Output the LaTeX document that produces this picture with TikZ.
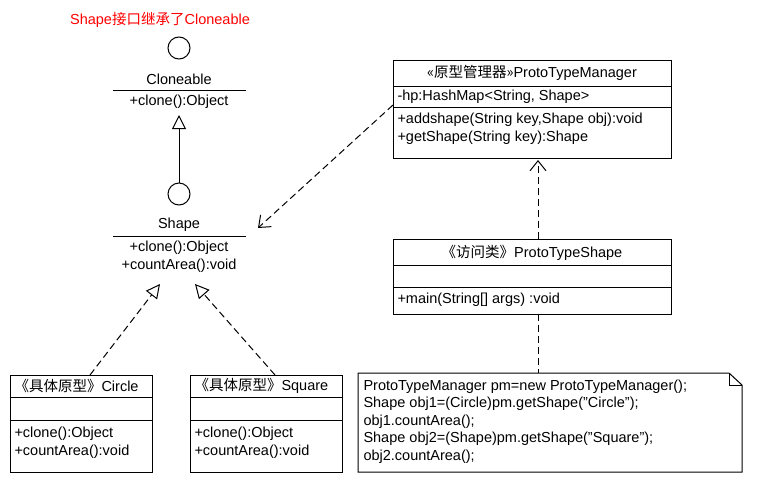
\documentclass[tikz,border=0pt]{standalone}
\usepackage{fontspec}
\setmainfont{Liberation Sans}
\newfontfamily\cjk{Noto Sans CJK SC}
\usetikzlibrary{arrows.meta}
\newcommand{\dq}{\symbol{34}}
\begin{document}
\begin{tikzpicture}[x=1pt,y=-1pt,font=\fontsize{14.5}{17.5}\selectfont,line width=1pt,
  lbl/.style={anchor=west,inner sep=0pt},
  ctr/.style={inner sep=0pt},
  box/.style={draw,line width=1pt},
  gen/.style={-{Triangle[open,length=14pt,width=14pt]}},
  dep/.style={dashed,dash pattern=on 7pt off 4pt,-{Straight Barb[length=10pt,width=16pt]}},
  circ/.style={draw,circle,minimum size=22pt,inner sep=0pt}]
\useasboundingbox (0,0) rectangle (768,498);
\node[ctr,text=red] (title) at (160,20) {Shape{\cjk 接口继承了}Cloneable};
% Cloneable
\node[circ] (c1) at (179,48) {};
\node[ctr] (cl) at (179,79) {Cloneable};
\draw (113,90) -- (246,90);
\node[ctr] (clm) at (179,102) {+clone():Object};
\coordinate (clb) at (179,115);
% Shape
\node[circ] (c2) at (179,194) {};
\node[ctr] (sh) at (179,225) {Shape};
\draw (113,236) -- (246,236);
\node[ctr] (shm1) at (179,248) {+clone():Object};
\node[ctr] (shm2) at (179,266) {+countArea():void};
\draw[gen] (c2.north) -- (clb);
% Circle class
\node[box,minimum width=142pt,minimum height=97pt,anchor=north west,inner sep=0pt] (ci) at (10,375) {};
\draw (10,397) -- (152,397) (10,420) -- (152,420);
\node[lbl] at (14,386) {{\cjk 《具体原型》}Circle};
\node[lbl] at (14,434) {+clone():Object};
\node[lbl] at (14,452) {+countArea():void};
% Square class
\node[box,minimum width=152pt,minimum height=97pt,anchor=north west,inner sep=0pt] (sq) at (190,375) {};
\draw (190,397) -- (342,397) (190,420) -- (342,420);
\node[lbl] at (194,386) {{\cjk 《具体原型》}Square};
\node[lbl] at (194,434) {+clone():Object};
\node[lbl] at (194,452) {+countArea():void};
\coordinate (ga) at (160,284);
\coordinate (gb) at (195,284);
\draw[gen,dashed,dash pattern=on 7pt off 4pt] (90,375) -- (ga);
\draw[gen,dashed,dash pattern=on 7pt off 4pt] (275,375) -- (gb);
% Manager
\node[box,minimum width=278pt,minimum height=98pt,anchor=north west,inner sep=0pt] (pm) at (393,60) {};
\draw (393,86) -- (671,86) (393,107) -- (671,107);
\node[ctr] at (532,73) {{\cjk «原型管理器»}ProtoTypeManager};
\node[lbl] at (397,97) {-hp:HashMap<String, Shape>};
\node[lbl] at (397,120) {+addshape(String key,Shape obj):void};
\node[lbl] at (397,138) {+getShape(String key):Shape};
% ProtoTypeShape
\node[box,minimum width=278pt,minimum height=75pt,anchor=north west,inner sep=0pt] (ps) at (393,239) {};
\draw (393,265) -- (671,265) (393,287) -- (671,287);
\node[ctr] at (532,253) {{\cjk 《访问类》}ProtoTypeShape};
\node[lbl] at (397,300) {+main(String[] args) :void};
% arrows
\coordinate (shr) at (258,228);
\draw[dep] (393,105) -- (shr);
\draw[dep] (538,239) -- (538,160);
% note
\draw[box,fill=white] (358,373) -- (729,373) -- (742,385) -- (742,472) -- (358,472) -- cycle;
\draw (729,373) -- (729,385) -- (742,385);
\coordinate (nt) at (538,373);
\draw[dashed,dash pattern=on 7pt off 4pt] (538,314) -- (nt);
\node[lbl,align=left,anchor=north west] at (363,379) {ProtoTypeManager pm=new ProtoTypeManager();\\Shape obj1=(Circle)pm.getShape(\dq Circle\dq);\\obj1.countArea();\\Shape obj2=(Shape)pm.getShape(\dq Square\dq);\\obj2.countArea();};
\end{tikzpicture}
\end{document}
